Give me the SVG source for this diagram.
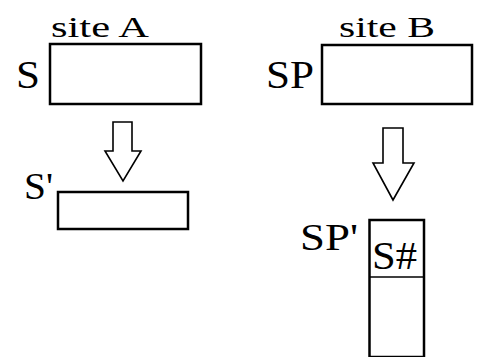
<svg xmlns="http://www.w3.org/2000/svg" width="479" height="357" viewBox="0 0 479 357">
  <style>
    .box { fill: #fff; stroke: #000; stroke-width: 2.5; }
    .arrow { fill: #fff; stroke: #000; stroke-width: 1.6; stroke-linejoin: miter; }
    text { font-family: "Liberation Serif", "Times New Roman", serif; fill: #000; }
  </style>
  <rect width="479" height="357" fill="#fff"/>

  <!-- site A -->
  <g id="siteA">
    <text x="51" y="37" font-size="29" textLength="98" lengthAdjust="spacingAndGlyphs">site A</text>
  </g>
  <g id="S">
    <rect class="box" x="50" y="44" width="151" height="60"/>
    <text x="16" y="88" font-size="41" textLength="24" lengthAdjust="spacingAndGlyphs">S</text>
  </g>
  <g id="S-prime">
    <rect class="box" x="58" y="192" width="130" height="37"/>
    <text x="24" y="199" font-size="37" textLength="29" lengthAdjust="spacingAndGlyphs">S'</text>
  </g>

  <!-- site B -->
  <g id="siteB">
    <text x="339" y="37" font-size="29" textLength="96" lengthAdjust="spacingAndGlyphs">site B</text>
  </g>
  <g id="SP">
    <rect class="box" x="322" y="45" width="150" height="59"/>
    <text x="266" y="88" font-size="40" textLength="48" lengthAdjust="spacingAndGlyphs">SP</text>
  </g>
  <g id="SP-prime">
    <rect class="box" x="369.5" y="220" width="54.5" height="137"/>
    <line x1="369.5" y1="277" x2="424" y2="277" stroke="#000" stroke-width="1.6"/>
    <text x="300" y="250" font-size="37" textLength="58" lengthAdjust="spacingAndGlyphs">SP'</text>
    <text x="372" y="269" font-size="41" textLength="45" lengthAdjust="spacingAndGlyphs">S#</text>
  </g>

  <!-- transformation arrows -->
  <g id="connectors">
    <polygon class="arrow" points="113,122 132,122 132,151 141,151 123,181 105,151 113,151"/>
    <polygon class="arrow" points="383,128 403,128 403,163 414,163 393,200 373,163 383,163"/>
  </g>
</svg>
